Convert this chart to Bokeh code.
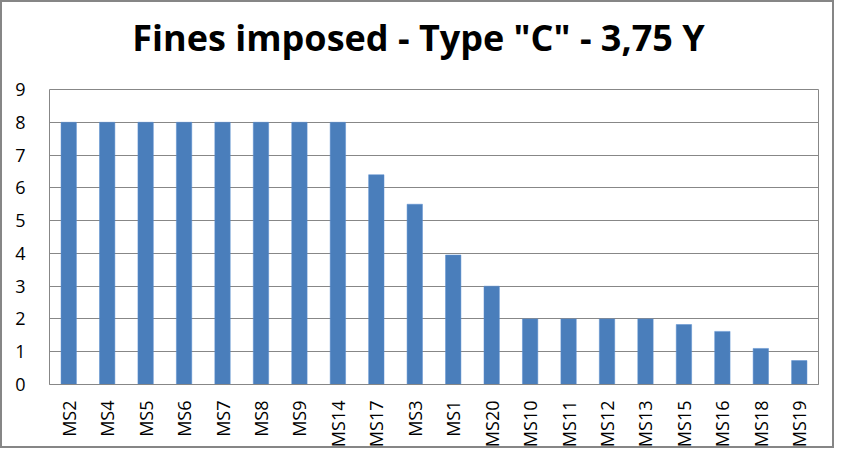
from bokeh.plotting import figure
from bokeh.embed import file_html
from bokeh.resources import INLINE
from bokeh.models import ColumnDataSource, FixedTicker, Label
import math

categories = ["MS2", "MS4", "MS5", "MS6", "MS7", "MS8", "MS9", "MS14", "MS17", "MS3",
              "MS1", "MS20", "MS10", "MS11", "MS12", "MS13", "MS15", "MS16", "MS18", "MS19"]
fines = [8, 8, 8, 8, 8, 8, 8, 8, 6.4, 5.5, 3.95, 3, 2, 2, 2, 2, 1.83, 1.62, 1.1, 0.73]
y_ticks = [0, 1, 2, 3, 4, 5, 6, 7, 8, 9]
title_text = 'Fines imposed - Type "C" - 3,75 Y'

source = ColumnDataSource(data=dict(cat=categories, val=fines))

p = figure(x_range=categories, y_range=(0, 9), width=834, height=448,
           output_backend="svg", toolbar_location=None,
           min_border_left=47, min_border_right=18, min_border_top=87, min_border_bottom=66)

# chart title placed in the top border area (canvas pixel units)
title = Label(x=414, y=33, x_units="canvas", y_units="canvas", text=title_text,
              text_align="center", text_baseline="alphabetic",
              text_font="Open Sans", text_font_style="bold", text_font_size="36px",
              text_color="#000000")
p.add_layout(title, "above")

p.vbar(x="cat", top="val", width=0.4, source=source,
       fill_color="#4A7EBB", line_color="#5B8FD0", line_width=0.5)

p.outline_line_color = "#878787"
p.xgrid.grid_line_color = None
p.ygrid.grid_line_color = "#878787"
p.ygrid.ticker = FixedTicker(ticks=y_ticks)

p.yaxis.ticker = FixedTicker(ticks=y_ticks)
p.yaxis.axis_line_color = None
p.yaxis.major_tick_line_color = None
p.yaxis.minor_tick_line_color = None
p.yaxis.major_tick_out = 0
p.yaxis.major_tick_in = 0
p.yaxis.major_label_standoff = 24
p.yaxis.major_label_text_font = "Open Sans"
p.yaxis.major_label_text_font_size = "18px"
p.yaxis.major_label_text_color = "#000000"

p.xaxis.axis_line_color = "#878787"
p.xaxis.major_tick_line_color = None
p.xaxis.major_tick_out = 0
p.xaxis.major_tick_in = 0
p.xaxis.major_label_orientation = math.pi / 2
p.xaxis.major_label_standoff = 16
p.xaxis.major_label_text_font = "Open Sans"
p.xaxis.major_label_text_font_size = "18px"
p.xaxis.major_label_text_color = "#000000"

p.background_fill_color = "white"
p.border_fill_color = "white"
p.styles = {"border": "2px solid #868686"}

open("out.html", "w").write(file_html(p, INLINE))
